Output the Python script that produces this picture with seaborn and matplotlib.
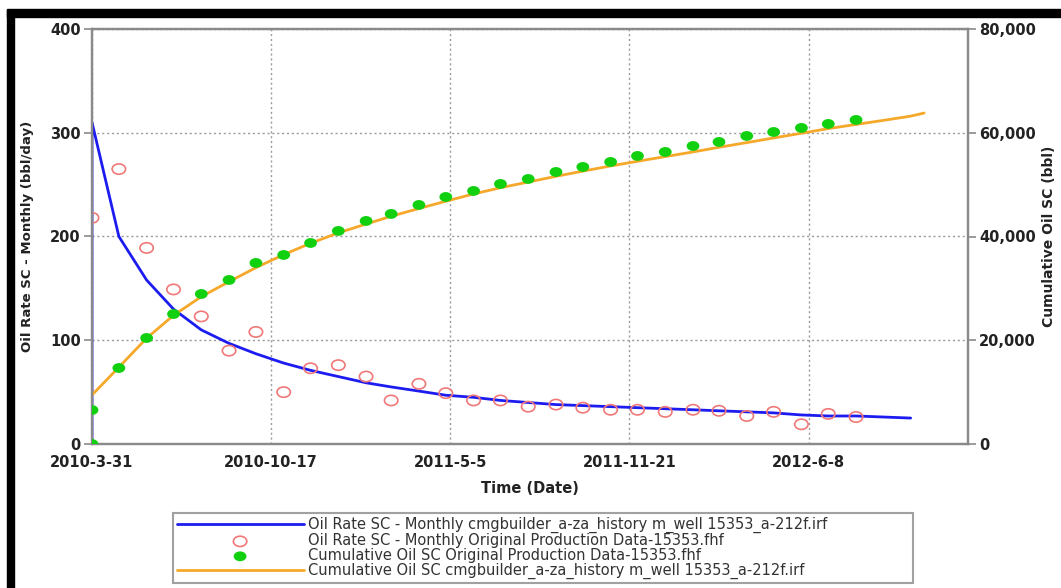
import pandas as pd
import matplotlib
matplotlib.use("Agg")
import matplotlib.pyplot as plt
from matplotlib.patches import Rectangle
from matplotlib.markers import MarkerStyle
from matplotlib.transforms import Affine2D
from matplotlib.ticker import FuncFormatter
import seaborn as sns

# month-end dates used by the monthly series
month_ends = [
    "2010-04-30", "2010-05-31", "2010-06-30", "2010-07-31", "2010-08-31", "2010-09-30",
    "2010-10-31", "2010-11-30", "2010-12-31",
    "2011-01-31", "2011-02-28", "2011-03-31", "2011-04-30", "2011-05-31", "2011-06-30",
    "2011-07-31", "2011-08-31", "2011-09-30", "2011-10-31", "2011-11-30", "2011-12-31",
    "2012-01-31", "2012-02-29", "2012-03-31", "2012-04-30", "2012-05-31", "2012-06-30",
    "2012-07-31", "2012-08-31", "2012-09-30",
]

# simulated oil rate (bbl/day), blue line
sim_rate_dates = ["2010-03-31", "2010-03-31"] + month_ends
sim_rate = [0, 310, 200, 158, 130, 110, 97, 87, 78, 71, 65,
            59, 55, 51, 47, 45, 42, 40, 38, 37, 36, 35, 34,
            33, 32, 31, 30, 28, 27, 27, 26, 25]

# observed oil rate (bbl/day), red open circles
obs_rate_dates = ["2010-03-31"] + month_ends[:28]
obs_rate = [218, 265, 189, 149, 123, 90, 108, 50, 73, 76, 65, 42, 58, 49, 42,
            42, 36, 38, 35, 33, 33, 31, 33, 32, 27, 31, 19, 29, 26]

# observed cumulative oil (bbl), green dots
obs_cum_dates = ["2010-03-31", "2010-03-31"] + month_ends[:28]
obs_cum = [0, 6550, 14650, 20440, 25060, 28920, 31620, 34900, 36440, 38750,
           41070, 43000, 44350, 46080, 47620, 48780, 50130, 51090, 52440, 53410,
           54370, 55530, 56300, 57450, 58230, 59380, 60150, 60930, 61700, 62470]

# simulated cumulative oil (bbl), orange line
sim_cum_dates = ["2010-03-31"] + month_ends + ["2012-10-15"]
sim_cum = [9450, 14800, 20400, 24800, 28400, 31300, 34000, 36500, 38700, 40700,
           42400, 43900, 45400, 46800, 48200, 49400, 50500, 51600, 52600, 53600,
           54500, 55400, 56300, 57200, 58100, 59000, 59900, 60800, 61600, 62400,
           63200, 63800]

tick_dates = ["2010-03-31", "2010-10-17", "2011-05-05", "2011-11-21", "2012-06-08"]
tick_labels = ["2010-3-31", "2010-10-17", "2011-5-5", "2011-11-21", "2012-6-8"]

labels = [
    "Oil Rate SC - Monthly cmgbuilder_a-za_history m_well 15353_a-212f.irf",
    "Oil Rate SC - Monthly Original Production Data-15353.fhf",
    "Cumulative Oil SC Original Production Data-15353.fhf",
    "Cumulative Oil SC cmgbuilder_a-za_history m_well 15353_a-212f.irf",
]

sim_rate_df = pd.DataFrame({"date": pd.to_datetime(sim_rate_dates), "rate": sim_rate})
obs_rate_df = pd.DataFrame({"date": pd.to_datetime(obs_rate_dates), "rate": obs_rate})
obs_cum_df = pd.DataFrame({"date": pd.to_datetime(obs_cum_dates), "cum": obs_cum})
sim_cum_df = pd.DataFrame({"date": pd.to_datetime(sim_cum_dates), "cum": sim_cum})

sns.set_style("white")
plt.rcParams["font.family"] = ["DejaVu Sans"]

fig = plt.figure(figsize=(10.61, 5.88), dpi=100)
ax = fig.add_axes([92 / 1061, 1 - 444 / 588, (968 - 92) / 1061, (444 - 29) / 588])
ax2 = ax.twinx()

blue = "#1c1cf0"
red = "#f07878"
green = "#10d010"
orange = "#f5a82a"

# the markers in the picture are a bit wider than tall
oval = MarkerStyle("o", transform=Affine2D().scale(1.3, 1.0))

sns.lineplot(data=sim_rate_df, x="date", y="rate", ax=ax, color=blue, lw=2,
             estimator=None, sort=False, label=labels[0], legend=False)
sns.scatterplot(data=obs_rate_df, x="date", y="rate", ax=ax, marker=oval, s=55,
                facecolor="none", edgecolor=red, linewidth=1.2, label=labels[1],
                legend=False, zorder=4)
sns.lineplot(data=sim_cum_df, x="date", y="cum", ax=ax2, color=orange, lw=2,
             estimator=None, sort=False, label=labels[3], legend=False)
sns.scatterplot(data=obs_cum_df, x="date", y="cum", ax=ax2, marker=oval, color=green,
                s=50, edgecolor="none", label=labels[2], legend=False, zorder=4)

start = pd.Timestamp("2010-03-31")
ax.set_xlim(start, start + pd.Timedelta(days=978))
ax.set_ylim(0, 400)
ax2.set_ylim(0, 80000)

ax.set_xticks(pd.to_datetime(tick_dates))
ax.set_xticklabels(tick_labels)
ax.set_yticks([0, 100, 200, 300, 400])
ax2.set_yticks([0, 20000, 40000, 60000, 80000])
ax2.yaxis.set_major_formatter(FuncFormatter(lambda v, p: f"{int(v):,}"))

ax.grid(True, linestyle=(0, (1.5, 2)), color="#9a9a9a", lw=1)
ax2.grid(False)

for a in (ax, ax2):
    for s in a.spines.values():
        s.set_color("#8a8a8a")
        s.set_linewidth(1.6)
    a.tick_params(direction="out", length=6, width=1.2, color="#8a8a8a",
                  labelsize=10.5, pad=2)
    for t in a.get_xticklabels() + a.get_yticklabels():
        t.set_fontweight("bold")
        t.set_color("#222222")

ax.set_xlabel("Time (Date)", fontsize=10.5, fontweight="bold", labelpad=8, color="#222222")
ax.set_ylabel("Oil Rate SC - Monthly (bbl/day)", fontsize=9.5, fontweight="bold",
              color="#222222")
ax.yaxis.set_label_coords(-0.066, 0.5)
ax2.set_ylabel("Cumulative Oil SC (bbl)", fontsize=10, fontweight="bold",
               color="#222222")
ax2.yaxis.set_label_coords(1.084, 0.5)

h1, l1 = ax.get_legend_handles_labels()
h2, l2 = ax2.get_legend_handles_labels()
handles = [h1[0], h1[1], h2[1], h2[0]]
leg = fig.legend(handles, labels, loc="lower left",
                 bbox_to_anchor=(173 / 1061, 1 - 583 / 588, 740 / 1061, 75 / 588),
                 mode="expand", fontsize=10.5, handlelength=8.7, handletextpad=0.3,
                 labelspacing=0.0, borderpad=0.25, fancybox=False, frameon=True,
                 borderaxespad=0)
leg.get_frame().set_edgecolor("#8a8a8a")
leg.get_frame().set_linewidth(1.5)
for t in leg.get_texts():
    t.set_color("#333333")

# black frame on the top and left edges of the picture
fig.add_artist(Rectangle((7 / 1061, 0), 7 / 1061, 1 - 10 / 588,
                         transform=fig.transFigure, color="black", zorder=10))
fig.add_artist(Rectangle((7 / 1061, 1 - 17 / 588), 1 - 7 / 1061, 8 / 588,
                         transform=fig.transFigure, color="black", zorder=10))

fig.savefig("out.png", dpi=100)
